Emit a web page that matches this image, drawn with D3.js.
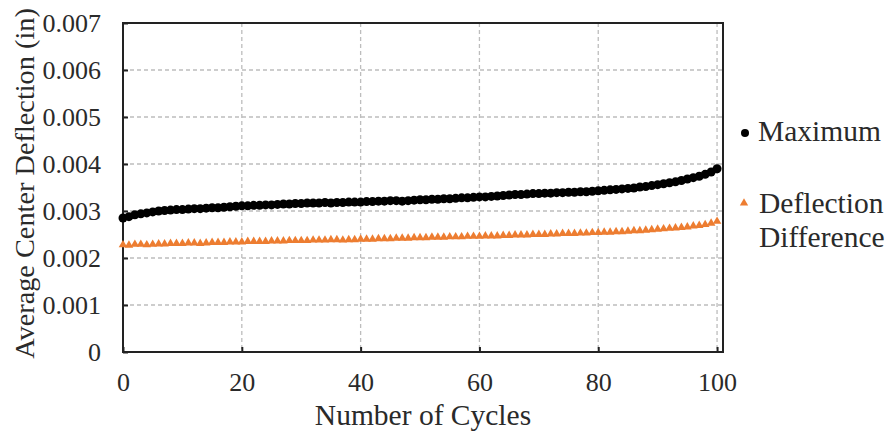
<!DOCTYPE html>
<html>
<head>
<meta charset="utf-8">
<script src="https://cdn.jsdelivr.net/npm/d3@7"></script>
<style>
  html, body { margin: 0; padding: 0; background: #fff; }
  svg { display: block; }
</style>
</head>
<body>
<svg id="chart" width="892" height="436"></svg>
<script>
// ---- Data ----
const cycles = d3.range(0, 101); // 0..100
const maximum = [
  0.00285, 0.00288, 0.00292, 0.00294, 0.00296, 0.00298, 0.00300, 0.00301, 0.00302, 0.00303,
  0.00303, 0.00304, 0.00305, 0.00305, 0.00306, 0.00307, 0.00307, 0.00308, 0.00309, 0.00310,
  0.00311, 0.00311, 0.00312, 0.00312, 0.00313, 0.00313, 0.00314, 0.00315, 0.00315, 0.00316,
  0.00316, 0.00317, 0.00317, 0.00317, 0.00318, 0.00317, 0.00318, 0.00318, 0.00319, 0.00319,
  0.00319, 0.00320, 0.00320, 0.00321, 0.00321, 0.00322, 0.00322, 0.00321, 0.00322, 0.00323,
  0.00324, 0.00324, 0.00325, 0.00325, 0.00326, 0.00326, 0.00327, 0.00328, 0.00328, 0.00329,
  0.00330, 0.00330, 0.00331, 0.00332, 0.00333, 0.00334, 0.00335, 0.00335, 0.00336, 0.00337,
  0.00337, 0.00338, 0.00338, 0.00339, 0.00339, 0.00340, 0.00340, 0.00341, 0.00341, 0.00342,
  0.00343, 0.00344, 0.00345, 0.00346, 0.00347, 0.00348, 0.00349, 0.00351, 0.00352, 0.00354,
  0.00356, 0.00358, 0.00360, 0.00362, 0.00365, 0.00368, 0.00371, 0.00374, 0.00378, 0.00383,
  0.00390
];
const deflectionDifference = [
  0.00228, 0.00227, 0.00229, 0.00229, 0.00228, 0.00229, 0.00230, 0.00230, 0.00231, 0.00231,
  0.00231, 0.00232, 0.00232, 0.00231, 0.00232, 0.00233, 0.00233, 0.00233, 0.00234, 0.00234,
  0.00234, 0.00235, 0.00235, 0.00235, 0.00235, 0.00236, 0.00236, 0.00236, 0.00237, 0.00237,
  0.00237, 0.00237, 0.00238, 0.00238, 0.00238, 0.00239, 0.00239, 0.00238, 0.00239, 0.00239,
  0.00240, 0.00240, 0.00240, 0.00241, 0.00241, 0.00241, 0.00242, 0.00242, 0.00242, 0.00243,
  0.00243, 0.00243, 0.00244, 0.00244, 0.00244, 0.00245, 0.00245, 0.00245, 0.00246, 0.00246,
  0.00246, 0.00247, 0.00247, 0.00247, 0.00248, 0.00248, 0.00249, 0.00249, 0.00249, 0.00250,
  0.00250, 0.00250, 0.00251, 0.00251, 0.00252, 0.00252, 0.00252, 0.00253, 0.00253, 0.00254,
  0.00254, 0.00255, 0.00255, 0.00256, 0.00256, 0.00257, 0.00258, 0.00258, 0.00259, 0.00260,
  0.00261, 0.00262, 0.00263, 0.00264, 0.00265, 0.00266, 0.00268, 0.00269, 0.00271, 0.00274,
  0.00278
];
const xTicks = [0, 20, 40, 60, 80, 100];
const yTicks = [0, 0.001, 0.002, 0.003, 0.004, 0.005, 0.006, 0.007];
const seriesNames = ["Maximum", "Deflection Difference"];
const xTitle = "Number of Cycles";
const yTitle = "Average Center Deflection (in)";

// ---- Layout ----
const FONT = '"Liberation Serif"';
const svg = d3.select("#chart");
const L = 123, R = 723, T = 23, B = 352;
const x = d3.scaleLinear().domain([0, 101]).range([L, R]);
const y = d3.scaleLinear().domain([0, 0.007]).range([B, T]);

// gridlines
const grid = svg.append("g");
grid.selectAll("line.h").data(yTicks.filter(v => v > 0 && v < 0.007)).join("line")
  .attr("x1", L).attr("x2", R).attr("y1", d => y(d)).attr("y2", d => y(d))
  .attr("stroke", "#bdbdbd").attr("stroke-width", 1.3).attr("stroke-dasharray", "4,3");
grid.selectAll("line.v").data(xTicks.filter(v => v > 0)).join("line")
  .attr("y1", T).attr("y2", B).attr("x1", d => x(d)).attr("x2", d => x(d))
  .attr("stroke", "#bdbdbd").attr("stroke-width", 1.3).attr("stroke-dasharray", "4,3");

// axes (ticks inward, labels outside)
const fmtY = d => d === 0 ? "0" : d3.format(".3f")(d);
const yAxis = svg.append("g").attr("transform", `translate(${L},0)`)
  .call(d3.axisLeft(y).tickValues(yTicks).tickFormat(fmtY).tickSizeInner(-5).tickSizeOuter(0).tickPadding(22));
const xAxis = svg.append("g").attr("transform", `translate(0,${B})`)
  .call(d3.axisBottom(x).tickValues(xTicks).tickFormat(d3.format("d")).tickSizeInner(-5).tickSizeOuter(0).tickPadding(21));
[yAxis, xAxis].forEach(a => {
  a.select(".domain").remove();
  a.selectAll(".tick line").attr("stroke", "#222").attr("stroke-width", 2);
  a.selectAll(".tick text").attr("fill", "#2a2a2a")
    .style("font-family", FONT).style("font-size", "26px");
});

// plot border
svg.append("rect").attr("x", L).attr("y", T).attr("width", R - L).attr("height", B - T)
  .attr("fill", "none").attr("stroke", "#222").attr("stroke-width", 2);

// series
const tri = d3.symbol().type(d3.symbolTriangle).size(32);
svg.append("g").selectAll("path").data(cycles).join("path")
  .attr("d", tri)
  .attr("transform", (d, i) => `translate(${x(d)},${y(deflectionDifference[i])})`)
  .attr("fill", "#ED7D31");
svg.append("g").selectAll("circle").data(cycles).join("circle")
  .attr("cx", d => x(d)).attr("cy", (d, i) => y(maximum[i])).attr("r", 4.5)
  .attr("fill", "#000");

// axis titles
svg.append("text").attr("x", (L + R) / 2).attr("y", 425).attr("text-anchor", "middle")
  .style("font-family", FONT).style("font-size", "29.5px").attr("fill", "#2a2a2a").text(xTitle);
svg.append("text").attr("transform", `translate(34,${(7 + 360) / 2}) rotate(-90)`)
  .attr("text-anchor", "middle").style("font-family", FONT).style("font-size", "28.3px")
  .attr("fill", "#2a2a2a").text(yTitle);

// legend
const lg = svg.append("g");
lg.append("circle").attr("cx", 745).attr("cy", 133).attr("r", 4).attr("fill", "#000");
lg.append("text").attr("x", 758).attr("y", 141).style("font-family", FONT).style("font-size", "29.5px")
  .attr("fill", "#2a2a2a").text(seriesNames[0]);
lg.append("path").attr("d", d3.symbol().type(d3.symbolTriangle).size(30))
  .attr("transform", "translate(744,203)").attr("fill", "#ED7D31");
const t2 = lg.append("text").attr("x", 759).attr("y", 213).style("font-family", FONT)
  .style("font-size", "29.5px").attr("fill", "#2a2a2a");
t2.append("tspan").attr("x", 759).text("Deflection");
t2.append("tspan").attr("x", 759).attr("y", 247).text("Difference");
</script>
</body>
</html>
